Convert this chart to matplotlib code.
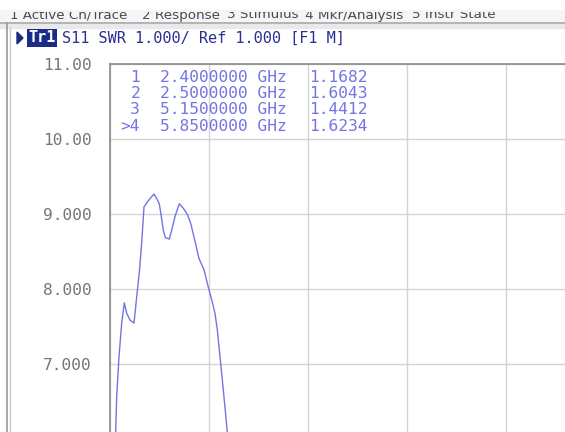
import numpy as np
import matplotlib.pyplot as plt
from matplotlib.lines import Line2D
from matplotlib.patches import Rectangle, Polygon

W, H = 565, 432

# trace S11 SWR, frequency in GHz (start 1 GHz, 0.6 GHz/div)
freq = [1.0150, 1.0212, 1.0345, 1.0406, 1.0545, 1.0709, 1.0867, 1.1012,
        1.1212, 1.1455, 1.1618, 1.1776, 1.1921, 1.2061, 1.2224, 1.2424,
        1.2667, 1.2830, 1.2988, 1.3109, 1.3230, 1.3352, 1.3594, 1.3739,
        1.3939, 1.4200, 1.4442, 1.4685, 1.4891, 1.5109, 1.5394, 1.5697,
        1.5897, 1.6164, 1.6364, 1.6503, 1.6667, 1.6867, 1.7109, 1.7333,
        1.7500]
swr = [4.60, 5.00, 6.10, 6.57, 7.10, 7.55, 7.82, 7.68,
       7.59, 7.55, 7.90, 8.22, 8.62, 9.10, 9.15, 9.21,
       9.27, 9.21, 9.14, 8.97, 8.79, 8.69, 8.67, 8.79,
       8.97, 9.14, 9.08, 9.00, 8.88, 8.68, 8.41, 8.26,
       8.08, 7.86, 7.68, 7.46, 7.10, 6.66, 6.10, 5.00,
       4.50]

marker_ids = ['1', '2', '3', '>4']
marker_freqs = [2.4, 2.5, 5.15, 5.85]
marker_swr = [1.1682, 1.6043, 1.4412, 1.6234]

y_ticks = [1, 2, 3, 4, 5, 6, 7, 8, 9, 10, 11]
y_labels = ['1.000', '2.000', '3.000', '4.000', '5.000', '6.000', '7.000',
            '8.000', '9.000', '10.00', '11.00']

menu = ['1 Active Ch/Trace', '2 Response', '3 Stimulus', '4 Mkr/Analysis',
        '5 Instr State']
menu_x = [10, 142, 227, 305, 412]

trace_col = '#7474e4'
grid_col = '#d4d4d4'
mono = 'DejaVu Sans Mono'


def fx(x):
    return x / W


def fy(y):
    return 1 - y / H


fig = plt.figure(figsize=(W / 100, H / 100), dpi=100)
fig.patch.set_facecolor('white')

# plot area: 10 x 10 divisions, mostly off the cropped screenshot
left, top = 110, 64.3
dx, dy = 99, 75
ax = fig.add_axes([fx(left), fy(top + 10 * dy), 10 * dx / W, 10 * dy / H])
ax.set_xlim(1.0, 7.0)
ax.set_ylim(1, 11)
ax.set_xticks(np.arange(1.0, 7.01, 0.6))
ax.set_yticks(y_ticks)
ax.set_yticklabels(y_labels)
ax.grid(True, color=grid_col, lw=1.0)
ax.set_axisbelow(True)
ax.tick_params(axis='y', length=0, pad=13, labelsize=11.7, labelcolor='#767676')
ax.tick_params(axis='x', length=0, labelbottom=False)
for lab in ax.get_yticklabels():
    lab.set_fontfamily(mono)
for s in ax.spines.values():
    s.set_color('#8a8a8a')
    s.set_linewidth(1.2)

ax.plot(freq, swr, color=trace_col, lw=1.0)

# marker table
for i, (m, f, v) in enumerate(zip(marker_ids, marker_freqs, marker_swr)):
    yy = fy(78 + 16 * i)
    fig.text(fx(140), yy, m, ha='right', va='center', family=mono,
             fontsize=11.7, color=trace_col)
    fig.text(fx(160), yy, f'{f:.7f} GHz', ha='left', va='center',
             family=mono, fontsize=11.7, color=trace_col)
    fig.text(fx(309), yy, f'{v:.4f}', ha='left', va='center', family=mono,
             fontsize=11.7, color=trace_col)

# title line
fig.patches.append(Polygon([[fx(17), fy(32)], [fx(17), fy(44)], [fx(23), fy(38)]],
                           closed=True, color='#1c2c7c',
                           transform=fig.transFigure))
fig.text(fx(28), fy(38), 'Tr1', ha='left', va='center', family=mono,
         fontsize=11, color='white', weight='bold',
         bbox=dict(boxstyle='square,pad=0.08', fc='#1c2c86', ec='none'))
fig.text(fx(62), fy(38), 'S11 SWR 1.000/ Ref 1.000 [F1 M]', ha='left',
         va='center', family=mono, fontsize=11, color='#2a2f94')

# menu strip, cut off at the top
strip = Rectangle((0, fy(22)), 1, fy(10) - fy(22), transform=fig.transFigure,
                  color='#f4f5f7', zorder=0)
fig.patches.append(strip)
clip = Rectangle((0, fy(22)), 1, fy(11.5) - fy(22), transform=fig.transFigure,
                 visible=False)
fig.patches.append(clip)
for t, x in zip(menu, menu_x):
    txt = fig.text(fx(x), fy(18.5), t, ha='left', va='baseline',
                   family='DejaVu Sans', fontsize=9.7, color='#4a4a4a')
    txt.set_clip_path(clip)
fig.lines.append(Line2D([0, 1], [fy(23), fy(23)], transform=fig.transFigure,
                        color='#a8a8a8', lw=1.2))
fig.patches.append(Rectangle((0, fy(28)), 1, fy(23.5) - fy(28),
                             transform=fig.transFigure, color='#e9e9e9'))
fig.lines.append(Line2D([fx(7), fx(7)], [0, fy(23)], transform=fig.transFigure,
                        color='#9a9a9a', lw=1.2))
fig.lines.append(Line2D([fx(9.5), fx(9.5)], [0, fy(28)],
                        transform=fig.transFigure, color='#c8c8c8', lw=1.0))

fig.savefig('out.png', dpi=100)
